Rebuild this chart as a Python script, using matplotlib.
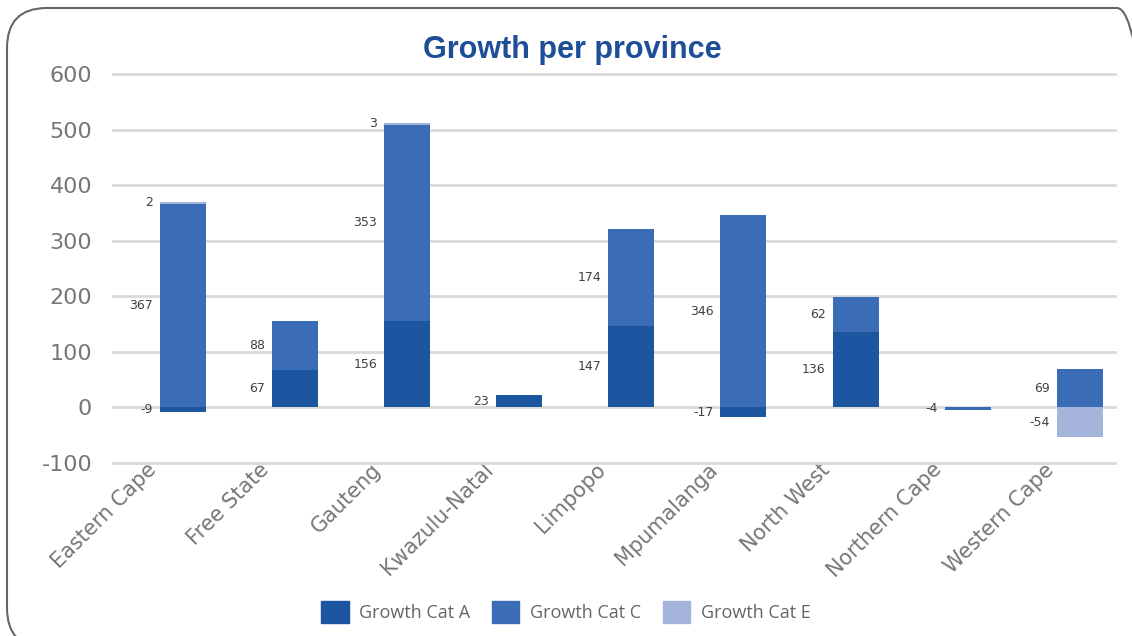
import matplotlib
matplotlib.use("Agg")
import matplotlib.pyplot as plt
import numpy as np
from matplotlib.patches import FancyBboxPatch, Patch
from matplotlib.transforms import IdentityTransform, ScaledTranslation

plt.rcParams["axes.unicode_minus"] = False

provinces = ["Eastern Cape", "Free State", "Gauteng", "Kwazulu-Natal", "Limpopo",
             "Mpumalanga", "North West", "Northern Cape", "Western Cape"]
cat_a = [-9, 67, 156, 23, 147, -17, 136, 0, 0]
cat_c = [367, 88, 353, 0, 174, 346, 62, -4, 69]
cat_e = [2, 0, 3, 0, 0, 0, 0, 0, -54]

series = [("Growth Cat A", cat_a, "#1d56a0"),
          ("Growth Cat C", cat_c, "#3a6db6"),
          ("Growth Cat E", cat_e, "#a4b4db")]

fig = plt.figure(figsize=(11.32, 6.36), dpi=100)
ax = fig.add_axes([0.0998, 0.272, 0.885, 0.6116])

x = np.arange(len(provinces))
width = 0.41
pos_base = np.zeros(len(provinces))
neg_base = np.zeros(len(provinces))
label_off = ScaledTranslation(-5 / 72, 0, fig.dpi_scale_trans)

for name, vals, col in series:
    vals = np.array(vals, dtype=float)
    bottoms = np.where(vals >= 0, pos_base, neg_base)
    ax.bar(x, vals, width, bottom=bottoms, color=col, zorder=3)
    for xi, v, b in zip(x, vals, bottoms):
        if v != 0:
            ax.text(xi - width / 2, b + v / 2, f"{v:.0f}", ha="right", va="center",
                    fontsize=9, color="#404040",
                    transform=ax.transData + label_off, zorder=4)
    pos_base += np.where(vals > 0, vals, 0)
    neg_base += np.where(vals < 0, vals, 0)

ax.set_xlim(-0.62, 8.31)
ax.set_ylim(-100, 600)
ax.set_yticks(range(-100, 601, 100))
ax.grid(axis="y", color="#d9d9d9", linewidth=2, zorder=0)
for gl in ax.get_ygridlines():
    gl.set_clip_on(False)
for s in ax.spines.values():
    s.set_visible(False)
ax.tick_params(axis="both", length=0, colors="#767676", labelsize=16)
ax.tick_params(axis="y", pad=15)
ax.set_xticks(x)
ax.set_xticklabels(provinces, rotation=45, ha="right", rotation_mode="anchor", fontsize=15)
shift = ScaledTranslation(-26 / 72, 6 / 72, fig.dpi_scale_trans)
for lab in ax.get_xticklabels():
    lab.set_transform(lab.get_transform() + shift)

fig.text(0.506, 0.922, "Growth per province", ha="center", va="center",
         fontsize=22, fontweight="bold", color="#1f4e99", family="Liberation Sans")

handles = [Patch(color=c, label=n) for n, _, c in series]
fig.legend(handles=handles, loc="center", bbox_to_anchor=(0.5, 0.038), ncol=3,
           frameon=False, prop={"family": "Open Sans", "size": 13},
           labelcolor="#666666", handlelength=1.5, handleheight=1.5,
           columnspacing=1.2, handletextpad=0.6)

border = FancyBboxPatch((7, -12), 1150, 640, boxstyle="round,pad=0,rounding_size=40",
                        transform=IdentityTransform(), fill=False,
                        edgecolor="#666666", linewidth=1.5)
fig.patches.append(border)

fig.savefig("out.png", dpi=100)
